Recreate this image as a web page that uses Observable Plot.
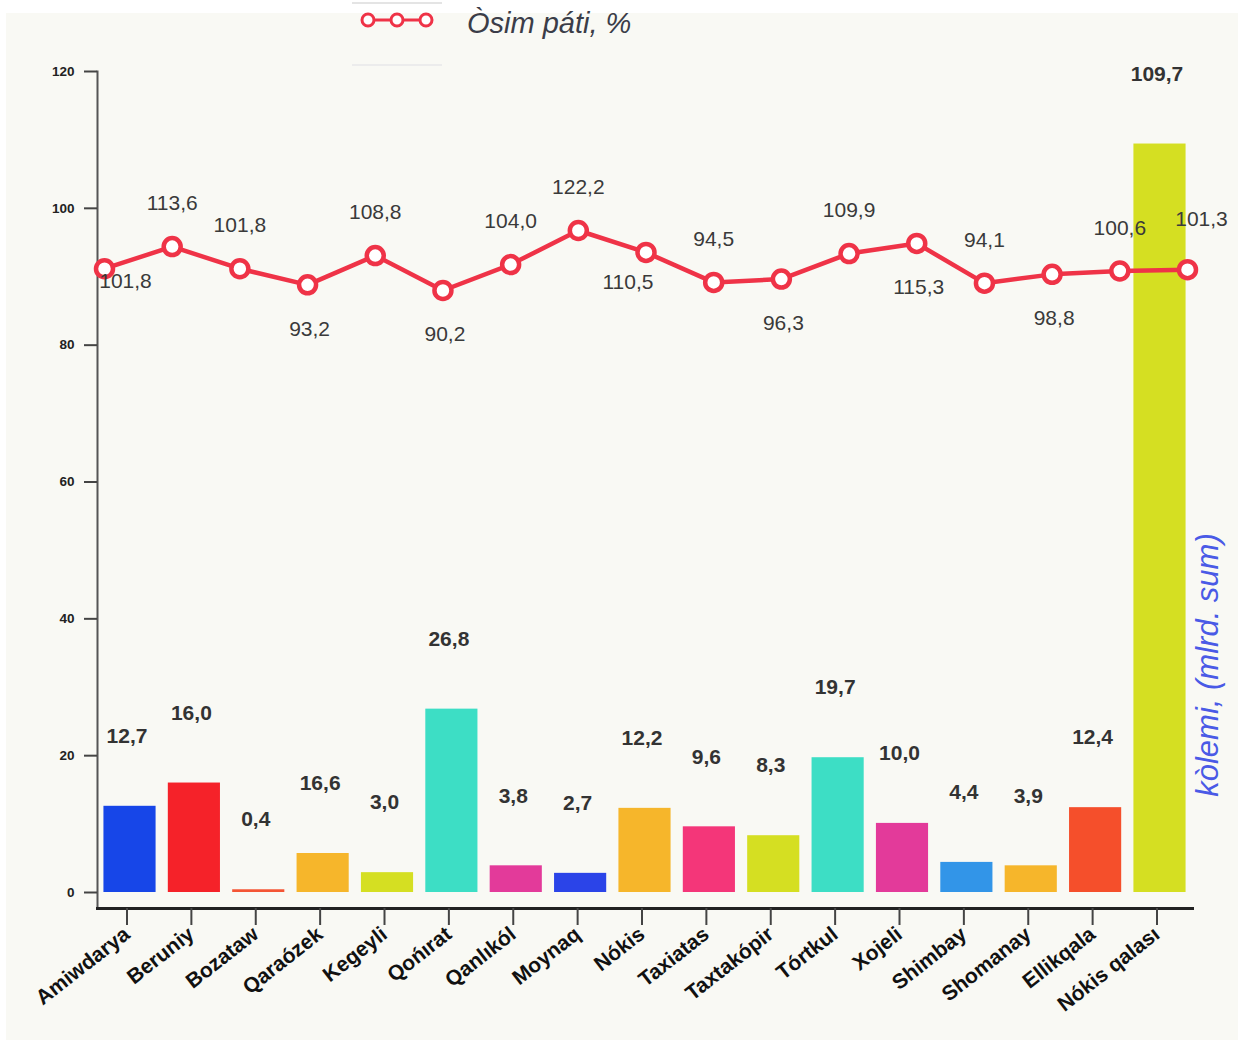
<!DOCTYPE html>
<html><head><meta charset="utf-8">
<script src="https://cdn.jsdelivr.net/npm/d3@7"></script>
<script src="https://cdn.jsdelivr.net/npm/@observablehq/plot@0.6"></script>
<style>
body{margin:0;background:#fff;font-family:"Liberation Sans",Arial,sans-serif;}
#wrap{position:relative;width:1238px;height:1044px;overflow:hidden;background:#fff;}
#panel{position:absolute;left:6px;top:13px;width:1232px;height:1027px;background:#f9f9f4;}
.layer{position:absolute;left:0;top:0;}
#legend{position:absolute;left:0;top:0;}
#ytitle{position:absolute;left:1208px;top:665px;transform:translate(-50%,-50%) rotate(-90deg);white-space:nowrap;
  font-style:italic;font-size:31px;color:#4a5ae6;}
</style></head><body>
<div id="wrap">
  <div id="panel"></div>
  <div id="chart" class="layer"></div>
  <div id="lineLayer" class="layer"></div>
  <svg id="legend" width="700" height="75">
    <line x1="352" x2="442" y1="3" y2="3" stroke="#e4e4e4" stroke-width="2"/>
    <line x1="352" x2="442" y1="65" y2="65" stroke="#ececec" stroke-width="2"/>
    <line x1="362" x2="433" y1="20" y2="20" stroke="#ef3347" stroke-width="3"/>
    <circle cx="368" cy="20" r="6" fill="#fff" stroke="#ef3347" stroke-width="3"/>
    <circle cx="397" cy="20" r="6" fill="#fff" stroke="#ef3347" stroke-width="3"/>
    <circle cx="426" cy="20" r="6" fill="#fff" stroke="#ef3347" stroke-width="3"/>
    <text x="467" y="33" font-size="29" font-style="italic" fill="#3b3d48">Òsim páti, %</text>
  </svg>
  <div id="ytitle">kòlemi, (mlrd. sum)</div>
</div>
<script>
// ---- data ----
const districts = ["Amiwdarya","Beruniy","Bozataw","Qaraózek","Kegeyli","Qońırat","Qanlıkól","Moynaq","Nókis","Taxiatas","Taxtakópir","Tórtkul","Xojeli","Shimbay","Shomanay","Ellikqala","Nókis qalası"];
const volume = [12.6, 16.0, 0.4, 5.7, 2.9, 26.8, 3.9, 2.8, 12.3, 9.6, 8.3, 19.7, 10.1, 4.4, 3.9, 12.4, 109.4];
const volumeLabels = ["12,7","16,0","0,4","16,6","3,0","26,8","3,8","2,7","12,2","9,6","8,3","19,7","10,0","4,4","3,9","12,4","109,7"];
const growth = [101.8, 113.6, 101.8, 93.2, 108.8, 90.2, 104.0, 122.2, 110.5, 94.5, 96.3, 109.9, 115.3, 94.1, 98.8, 100.6, 101.3];
const growthLabels = ["101,8","113,6","101,8","93,2","108,8","90,2","104,0","122,2","110,5","94,5","96,3","109,9","115,3","94,1","98,8","100,6","101,3"];
const yTicks = [0, 20, 40, 60, 80, 100, 120];
const barColors = ["#1746e8","#f52229","#f45535","#f6b62b","#d5df22","#3ddec5","#e33a9a","#2b44e8","#f6b62b","#f43679","#d5df22","#3ddec5","#e33a9a","#3295e8","#f6b62b","#f54f2b","#d5df22"];
// secondary (hidden) scale of the growth line
const growthDomain = [-230.9, 207.0];

const bars = districts.map((d, i) => ({district: d, volume: volume[i], label: volumeLabels[i]}));
const pts = districts.map((d, i) => ({district: d, growth: growth[i], label: growthLabels[i], i}));

// label placement around the line points (styling)
const placement = i => i === 0 ? [21, 13] : i === 8 ? [-18, 30] : i === 16 ? [14, -50]
  : [0, 3, 5, 10, 12, 14].includes(i) ? [2, 44] : [0, -43];
const groups = d3.groups(pts, p => placement(p.i).join(","));

const W = 1238, H = 1044;
const common = {width: W, height: H, marginTop: 71, marginBottom: 136, marginLeft: 97, marginRight: 46,
  style: {background: "transparent", fontFamily: "Liberation Sans, Arial, sans-serif"}};

const chart = Plot.plot({
  ...common,
  x: {type: "band", domain: districts, paddingInner: 0.19, paddingOuter: 0.1, round: false, label: null},
  y: {domain: [0, 120], range: [892, 71], label: null},
  color: {domain: districts, range: barColors},
  marks: [
    Plot.barY(bars, {x: "district", y: "volume", fill: "district", inset: 0}),
    Plot.text(bars, {x: "district", y: "volume", text: "label", dy: -70, dx: -3, fontSize: 21, fontWeight: "bold", fill: "#333"}),
    Plot.frame({anchor: "left", stroke: "#555", strokeWidth: 2}),
    Plot.frame({anchor: "bottom", stroke: "#222", strokeWidth: 3}),
    Plot.axisY({ticks: yTicks, tickSize: 13, tickPadding: 10, fontSize: 13.5, fontWeight: "bold", stroke: "#444", strokeWidth: 2, fill: "#222", label: null}),
    Plot.axisX({tickSize: 17, tickPadding: 6, tickRotate: -38, fontSize: 21, fontWeight: "bold", stroke: "#444", strokeWidth: 2, fill: "#111", dx: -3, label: null})
  ]
});
document.getElementById("chart").appendChild(chart);

const lineLayer = Plot.plot({
  ...common,
  x: {type: "point", domain: districts, range: [104, 1187], padding: 0, round: false, axis: null},
  y: {domain: growthDomain, range: [892, 71], axis: null},
  marks: [
    Plot.line(pts, {x: "district", y: "growth", stroke: "#ef3347", strokeWidth: 4.5}),
    Plot.dot(pts, {x: "district", y: "growth", r: 8.5, fill: "#fff", stroke: "#ef3347", strokeWidth: 4.5}),
    ...groups.map(([key, g]) => {
      const [dx, dy] = key.split(",").map(Number);
      return Plot.text(g, {x: "district", y: "growth", text: "label", dx, dy, fontSize: 21, fill: "#3a3a3a"});
    })
  ]
});
document.getElementById("lineLayer").appendChild(lineLayer);
</script>
</body></html>
